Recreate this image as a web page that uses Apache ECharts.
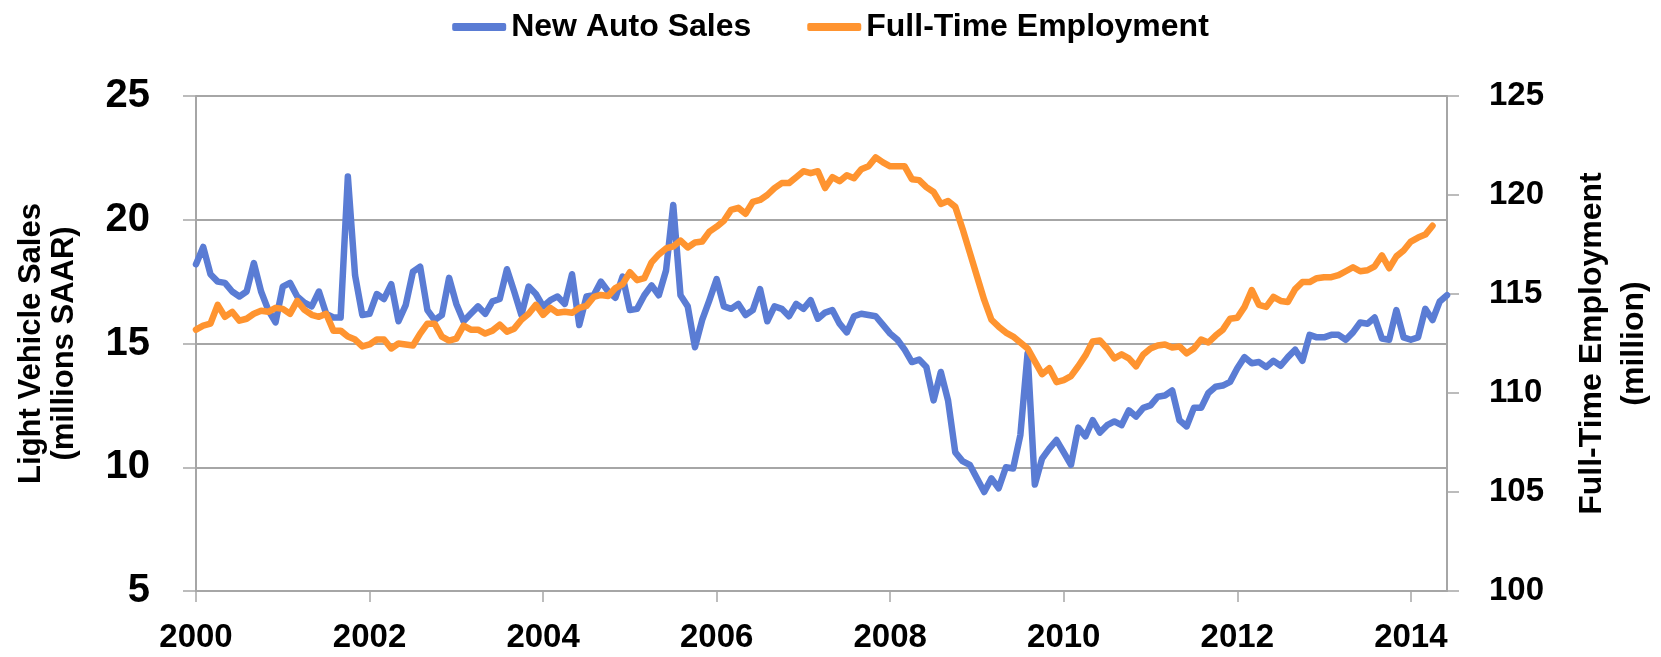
<!DOCTYPE html>
<html>
<head>
<meta charset="utf-8">
<title>New Auto Sales vs Full-Time Employment</title>
<script src="https://cdn.jsdelivr.net/npm/echarts@6/dist/echarts.min.js"></script>
<style>
  html, body { margin: 0; padding: 0; background: #fff; }
  #chart { width: 1661px; height: 657px; }
</style>
</head>
<body>
<div id="chart"></div>
<script>
// monthly, Jan 2000 .. Jun 2014
const startYear = 2000
const monthCount = 174
const months = []
for (let i = 0; i < monthCount; i++) {
  const y = startYear + Math.floor(i / 12)
  const m = (i % 12) + 1
  months.push(y + '-' + (m < 10 ? '0' + m : m))
}

// light vehicle sales, millions SAAR (left axis)
const autoSales = [
  18.2, 18.9, 17.8, 17.5, 17.45, 17.1, 16.9, 17.1, 18.25, 17.1, 16.35, 15.85,
  17.3, 17.45, 16.9, 16.65, 16.5, 17.1, 16.2, 16.05, 16.05, 21.75, 17.75, 16.15,
  16.2, 17.0, 16.8, 17.4, 15.9, 16.55, 17.9, 18.1, 16.35, 15.95, 16.15, 17.65,
  16.6, 15.9, 16.2, 16.5, 16.2, 16.7, 16.8, 18.0, 17.1, 16.15, 17.3, 17.0,
  16.5, 16.75, 16.9, 16.6, 17.8, 15.75, 16.9, 16.95, 17.5, 17.1, 16.85, 17.7,
  16.35, 16.4, 16.95, 17.35, 16.95, 17.95, 20.6, 16.95, 16.5, 14.85, 15.95, 16.75,
  17.6, 16.5, 16.4, 16.6, 16.15, 16.35, 17.2, 15.9, 16.5, 16.4, 16.1, 16.6,
  16.4, 16.75, 16.0, 16.25, 16.35, 15.8, 15.45, 16.1, 16.2, 16.15, 16.1, 15.75,
  15.4, 15.15, 14.75, 14.25, 14.35, 14.05, 12.7, 13.85, 12.7, 10.6, 10.25, 10.1,
  9.55, 9.0, 9.55, 9.15, 10.0, 9.95, 11.3, 14.6, 9.3, 10.35, 10.75, 11.1,
  10.6, 10.1, 11.6, 11.25, 11.9, 11.4, 11.7, 11.85, 11.7, 12.3, 12.05, 12.4,
  12.5, 12.85, 12.9, 13.1, 11.9, 11.65, 12.4, 12.4, 13.0, 13.25, 13.3, 13.45,
  14.0, 14.45, 14.2, 14.25, 14.05, 14.3, 14.1, 14.45, 14.75, 14.3, 15.35, 15.25,
  15.25, 15.35, 15.35, 15.15, 15.45, 15.85, 15.8, 16.05, 15.2, 15.15, 16.35, 15.25,
  15.15, 15.25, 16.4, 15.95, 16.7, 16.95
]

// full-time employment, million (right axis), ends Apr 2014
const fullTime = [
  113.2, 113.4, 113.5, 114.45, 113.85, 114.1, 113.65, 113.75, 114.0, 114.15, 114.1, 114.3,
  114.25, 114.0, 114.65, 114.2, 113.95, 113.85, 114.0, 113.15, 113.15, 112.85, 112.7, 112.35,
  112.45, 112.7, 112.7, 112.25, 112.5, 112.45, 112.4, 113.0, 113.5, 113.5, 112.85, 112.65,
  112.75, 113.4, 113.2, 113.2, 113.0, 113.15, 113.45, 113.1, 113.25, 113.7, 114.0, 114.45,
  113.95, 114.3, 114.05, 114.1, 114.05, 114.3, 114.4, 114.85, 114.95, 114.9, 115.3, 115.5,
  116.1, 115.7, 115.8, 116.6, 117.0, 117.3, 117.4, 117.7, 117.35, 117.6, 117.65, 118.15,
  118.4, 118.7, 119.25, 119.35, 119.05, 119.65, 119.75, 120.0, 120.35, 120.6, 120.6, 120.9,
  121.2, 121.1, 121.2, 120.35, 120.9, 120.7, 121.0, 120.85, 121.3, 121.45, 121.9, 121.65,
  121.45, 121.45, 121.45, 120.8, 120.75, 120.4, 120.15, 119.55, 119.7, 119.4, 118.3, 117.1,
  115.9, 114.7, 113.7, 113.35, 113.05, 112.85, 112.55, 112.25, 111.6, 110.95, 111.25, 110.55,
  110.65, 110.85, 111.35, 111.9, 112.6, 112.65, 112.25, 111.75, 111.95, 111.75, 111.35, 111.95,
  112.25, 112.4, 112.45, 112.3, 112.35, 112.0, 112.25, 112.7, 112.55, 112.9, 113.2, 113.75,
  113.8, 114.35, 115.2, 114.45, 114.35, 114.85, 114.65, 114.6, 115.25, 115.6, 115.6, 115.8,
  115.85, 115.85, 115.95, 116.15, 116.35, 116.15, 116.2, 116.4, 116.95, 116.3, 116.9, 117.2,
  117.65, 117.85, 118.0, 118.45
]

const axisGray = '#a6a6a6'
const font = '"Liberation Sans", Arial, sans-serif'

const chart = echarts.init(document.getElementById('chart'))

chart.setOption({
  animation: false,
  textStyle: { fontFamily: font },
  legend: {
    top: 6,
    left: 'center',
    icon: 'roundRect',
    itemWidth: 54,
    itemHeight: 8,
    itemGap: 56,
    textStyle: { fontSize: 32, fontWeight: 'bold', color: '#000', fontFamily: font },
    data: ['New Auto Sales', 'Full-Time Employment']
  },
  grid: { left: 196, right: 214, top: 96, bottom: 66, containLabel: false, outerBoundsMode: 'none' },
  xAxis: {
    type: 'category',
    data: months,
    boundaryGap: false,
    axisLine: { lineStyle: { color: axisGray, width: 2 } },
    axisTick: { interval: 23, length: 11, lineStyle: { color: axisGray, width: 1.5 } },
    axisLabel: {
      interval: 23,
      margin: 30,
      fontSize: 33,
      fontWeight: 'bold',
      color: '#000',
      formatter: (v) => v.slice(0, 4)
    },
    splitLine: { show: false }
  },
  yAxis: [
    {
      type: 'value',
      min: 5,
      max: 25,
      interval: 5,
      name: 'Light Vehicle Sales\n(millions SAAR)',
      nameLocation: 'middle',
      nameRotate: 90,
      nameGap: 115,
      nameTextStyle: { fontSize: 31, fontWeight: 'bold', color: '#000', lineHeight: 33 },
      axisLine: { show: true, lineStyle: { color: axisGray, width: 2 } },
      axisTick: { show: true, length: 13, lineStyle: { color: axisGray, width: 1.5 } },
      axisLabel: { margin: 46, fontSize: 40, fontWeight: 'bold', color: '#000' },
      splitLine: { lineStyle: { color: axisGray, width: 2 } }
    },
    {
      type: 'value',
      position: 'right',
      min: 100,
      max: 125,
      interval: 5,
      name: 'Full-Time Employment\n(million)',
      nameLocation: 'middle',
      nameRotate: 90,
      nameGap: 124,
      nameTextStyle: { fontSize: 32, fontWeight: 'bold', color: '#000', lineHeight: 42 },
      axisLine: { show: true, lineStyle: { color: axisGray, width: 2 } },
      axisTick: { show: true, length: 12, lineStyle: { color: axisGray, width: 1.5 } },
      axisLabel: { margin: 42, fontSize: 33, fontWeight: 'bold', color: '#000' },
      splitLine: { show: false }
    }
  ],
  series: [
    {
      name: 'New Auto Sales',
      type: 'line',
      data: autoSales,
      yAxisIndex: 0,
      symbol: 'none',
      color: '#5a7cd4',
      lineStyle: { width: 6.5, color: '#5a7cd4', cap: 'round', join: 'round' }
    },
    {
      name: 'Full-Time Employment',
      type: 'line',
      data: fullTime,
      yAxisIndex: 1,
      symbol: 'none',
      color: '#ff9430',
      lineStyle: { width: 6.5, color: '#ff9430', cap: 'round', join: 'round' }
    }
  ]
})
</script>
</body>
</html>
